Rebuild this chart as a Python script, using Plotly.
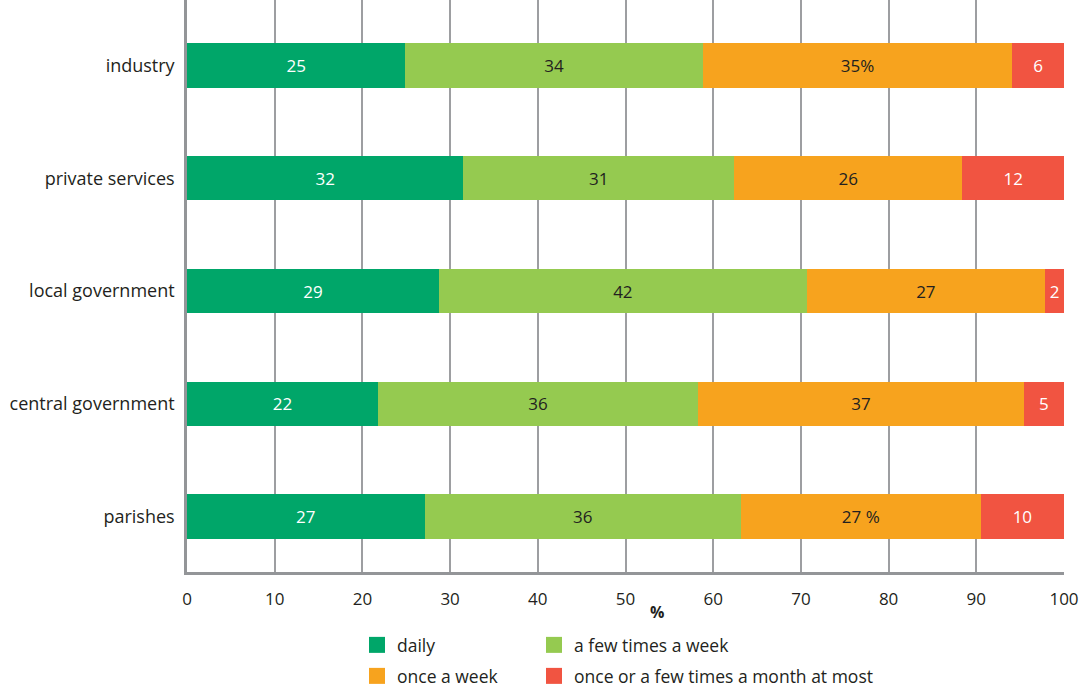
import plotly.graph_objects as go

categories = ["industry", "private services", "local government", "central government", "parishes"]
series_names = ["daily", "a few times a week", "once a week", "once or a few times a month at most"]

# bar extents (%)
daily = [24.9, 31.5, 28.75, 21.75, 27.1]
few_times_week = [33.9, 30.9, 41.9, 36.55, 36.05]
once_week = [35.3, 26.0, 27.2, 37.1, 27.35]
monthly = [5.9, 11.6, 2.15, 4.6, 9.5]

# printed labels
daily_labels = ["25", "32", "29", "22", "27"]
few_labels = ["34", "31", "42", "36", "36"]
once_labels = ["35%", "26", "27", "37", "27 %"]
monthly_labels = ["6", "12", "2", "5", "10"]

x_ticks = [0, 10, 20, 30, 40, 50, 60, 70, 80, 90, 100]

colors = ["#00A669", "#95CA50", "#F7A31E", "#F15441"]
text_colors = ["#FFFFFF", "#231F20", "#231F20", "#FFFFFF"]
FONT = "Open Sans"
W, H = 1082, 688

fig = go.Figure()
series = [daily, few_times_week, once_week, monthly]
labels = [daily_labels, few_labels, once_labels, monthly_labels]
for name, vals, labs, col, tcol in zip(series_names, series, labels, colors, text_colors):
    fig.add_trace(go.Bar(
        y=categories, x=vals, orientation="h", name=name,
        marker=dict(color=col, line=dict(width=0)),
        width=0.394,
        text=labs, textposition="inside", insidetextanchor="middle",
        textangle=0, constraintext="none",
        textfont=dict(family=FONT, size=17, color=tcol),
        showlegend=False, hoverinfo="skip",
    ))

# legend entries (square swatches), 2x2 grid, one legend per entry
legend_ids = ["legend", "legend2", "legend3", "legend4"]
legend_pos = [(357, 645), (534, 645), (357, 676), (534, 676)]
for name, col, lid in zip(series_names, colors, legend_ids):
    fig.add_trace(go.Scatter(
        x=[None], y=[None], mode="markers", name=name,
        marker=dict(symbol="square", size=16, color=col),
        legend=lid, showlegend=True,
    ))

legend_layouts = {}
for lid, (px, py) in zip(legend_ids, legend_pos):
    legend_layouts[lid] = dict(
        orientation="h", xref="container", yref="container",
        x=px / W, y=1 - py / H, xanchor="left", yanchor="middle",
        font=dict(family=FONT, size=17.5, color="#231F20"),
        bgcolor="rgba(0,0,0,0)", borderwidth=0, traceorder="normal",
    )

fig.update_layout(
    width=W, height=H,
    margin=dict(l=187, r=18, t=0, b=116),
    barmode="stack",
    plot_bgcolor="white", paper_bgcolor="white",
    font=dict(family=FONT, size=16, color="#231F20"),
    xaxis=dict(
        range=[0, 100], tickvals=x_ticks, ticktext=[str(v) for v in x_ticks],
        showgrid=True, gridcolor="#9D9EA1", gridwidth=2,
        showline=True, linecolor="#939598", linewidth=2.5,
        zeroline=False, ticks="", ticklabelstandoff=10,
        tickfont=dict(family=FONT, size=17, color="#231F20"),
        fixedrange=True,
    ),
    yaxis=dict(
        categoryorder="array", categoryarray=categories,
        range=[4.492, -0.581],
        showgrid=False, showline=True, linecolor="#939598", linewidth=2.5,
        zeroline=False, ticks="", ticklabelstandoff=6,
        tickfont=dict(family=FONT, size=18, color="#231F20"),
        fixedrange=True,
    ),
    annotations=[dict(
        text="<b>%</b>", xref="paper", yref="paper",
        x=(657 - 187) / (W - 187 - 18), y=(572 - 612) / 572,
        xanchor="center", yanchor="middle", showarrow=False,
        font=dict(family=FONT, size=16, color="#231F20"),
    )],
    **legend_layouts,
)

fig.write_html("out.html")
